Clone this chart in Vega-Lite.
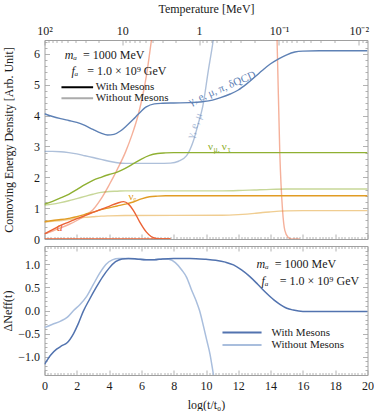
{
  "$schema": "https://vega.github.io/schema/vega-lite/v6.json",
  "padding": {"left": 0.5, "top": 2, "right": 0, "bottom": 0},
  "spacing": -7,
  "resolve": {"scale": {"color": "independent", "opacity": "independent", "x": "independent", "y": "independent"}, "legend": {"color": "independent", "opacity": "independent"}},
  "config": {
    "font": "Liberation Serif",
    "view": {"stroke": "#a0a0a0", "strokeWidth": 1},
    "axis": {"grid": false, "domain": false, "tickColor": "#a0a0a0", "tickWidth": 0.8, "labelFont": "Liberation Serif", "labelFontSize": 12, "labelColor": "#1a1a1a", "titleFont": "Liberation Serif", "titleFontSize": 12, "titleFontWeight": "normal", "titleColor": "#1a1a1a", "labelOverlap": false, "labelFlush": false, "labelPadding": 10},
    "text": {"font": "Liberation Serif", "fontSize": 12}
  },
  "datasets": {
    "top": [
      {"sp":"photon","m":"With Mesons","x":0,"y":4.06},{"sp":"photon","m":"With Mesons","x":0.5,"y":3.97},{"sp":"photon","m":"With Mesons","x":1,"y":3.9},{"sp":"photon","m":"With Mesons","x":1.5,"y":3.84},{"sp":"photon","m":"With Mesons","x":2,"y":3.78},{"sp":"photon","m":"With Mesons","x":2.5,"y":3.68},{"sp":"photon","m":"With Mesons","x":3,"y":3.55},{"sp":"photon","m":"With Mesons","x":3.5,"y":3.43},{"sp":"photon","m":"With Mesons","x":3.9,"y":3.37},{"sp":"photon","m":"With Mesons","x":4.3,"y":3.39},{"sp":"photon","m":"With Mesons","x":4.7,"y":3.5},{"sp":"photon","m":"With Mesons","x":5.1,"y":3.68},{"sp":"photon","m":"With Mesons","x":5.5,"y":3.88},{"sp":"photon","m":"With Mesons","x":5.8,"y":4.04},{"sp":"photon","m":"With Mesons","x":6.3,"y":4.28},{"sp":"photon","m":"With Mesons","x":6.8,"y":4.38},{"sp":"photon","m":"With Mesons","x":7.3,"y":4.4},{"sp":"photon","m":"With Mesons","x":8,"y":4.41},{"sp":"photon","m":"With Mesons","x":9,"y":4.42},{"sp":"photon","m":"With Mesons","x":9.8,"y":4.45},{"sp":"photon","m":"With Mesons","x":10.4,"y":4.5},{"sp":"photon","m":"With Mesons","x":10.9,"y":4.58},{"sp":"photon","m":"With Mesons","x":11.5,"y":4.7},{"sp":"photon","m":"With Mesons","x":12,"y":4.83},{"sp":"photon","m":"With Mesons","x":12.5,"y":5.02},{"sp":"photon","m":"With Mesons","x":13,"y":5.24},{"sp":"photon","m":"With Mesons","x":13.5,"y":5.47},{"sp":"photon","m":"With Mesons","x":14,"y":5.68},{"sp":"photon","m":"With Mesons","x":14.5,"y":5.84},{"sp":"photon","m":"With Mesons","x":15,"y":5.97},{"sp":"photon","m":"With Mesons","x":15.5,"y":6.06},{"sp":"photon","m":"With Mesons","x":16,"y":6.09},{"sp":"photon","m":"With Mesons","x":17,"y":6.1},{"sp":"photon","m":"With Mesons","x":20,"y":6.1},
      {"sp":"photon","m":"Without Mesons","x":0,"y":2.84},{"sp":"photon","m":"Without Mesons","x":0.5,"y":2.84},{"sp":"photon","m":"Without Mesons","x":1,"y":2.83},{"sp":"photon","m":"Without Mesons","x":1.5,"y":2.8},{"sp":"photon","m":"Without Mesons","x":2,"y":2.76},{"sp":"photon","m":"Without Mesons","x":2.5,"y":2.7},{"sp":"photon","m":"Without Mesons","x":3,"y":2.64},{"sp":"photon","m":"Without Mesons","x":3.5,"y":2.58},{"sp":"photon","m":"Without Mesons","x":4,"y":2.52},{"sp":"photon","m":"Without Mesons","x":4.5,"y":2.47},{"sp":"photon","m":"Without Mesons","x":5,"y":2.45},{"sp":"photon","m":"Without Mesons","x":6,"y":2.45},{"sp":"photon","m":"Without Mesons","x":7,"y":2.45},{"sp":"photon","m":"Without Mesons","x":7.8,"y":2.46},{"sp":"photon","m":"Without Mesons","x":8.3,"y":2.52},{"sp":"photon","m":"Without Mesons","x":8.8,"y":2.7},{"sp":"photon","m":"Without Mesons","x":9.2,"y":3.15},{"sp":"photon","m":"Without Mesons","x":9.5,"y":3.7},{"sp":"photon","m":"Without Mesons","x":9.8,"y":4.3},{"sp":"photon","m":"Without Mesons","x":10.15,"y":5.48},{"sp":"photon","m":"Without Mesons","x":10.45,"y":6.45},{"sp":"photon","m":"Without Mesons","x":10.7,"y":7.5},
      {"sp":"numu","m":"With Mesons","x":0,"y":1.13},{"sp":"numu","m":"With Mesons","x":0.5,"y":1.22},{"sp":"numu","m":"With Mesons","x":1,"y":1.33},{"sp":"numu","m":"With Mesons","x":1.5,"y":1.45},{"sp":"numu","m":"With Mesons","x":2,"y":1.6},{"sp":"numu","m":"With Mesons","x":2.5,"y":1.76},{"sp":"numu","m":"With Mesons","x":3,"y":1.9},{"sp":"numu","m":"With Mesons","x":3.5,"y":2.0},{"sp":"numu","m":"With Mesons","x":4,"y":2.09},{"sp":"numu","m":"With Mesons","x":4.5,"y":2.17},{"sp":"numu","m":"With Mesons","x":5,"y":2.29},{"sp":"numu","m":"With Mesons","x":5.5,"y":2.44},{"sp":"numu","m":"With Mesons","x":6,"y":2.59},{"sp":"numu","m":"With Mesons","x":6.5,"y":2.71},{"sp":"numu","m":"With Mesons","x":7,"y":2.77},{"sp":"numu","m":"With Mesons","x":7.5,"y":2.79},{"sp":"numu","m":"With Mesons","x":8,"y":2.8},{"sp":"numu","m":"With Mesons","x":20,"y":2.8},
      {"sp":"numu","m":"Without Mesons","x":0,"y":1.1},{"sp":"numu","m":"Without Mesons","x":0.5,"y":1.13},{"sp":"numu","m":"Without Mesons","x":1,"y":1.18},{"sp":"numu","m":"Without Mesons","x":1.5,"y":1.24},{"sp":"numu","m":"Without Mesons","x":2,"y":1.31},{"sp":"numu","m":"Without Mesons","x":2.5,"y":1.38},{"sp":"numu","m":"Without Mesons","x":3,"y":1.45},{"sp":"numu","m":"Without Mesons","x":3.5,"y":1.51},{"sp":"numu","m":"Without Mesons","x":4,"y":1.54},{"sp":"numu","m":"Without Mesons","x":4.5,"y":1.55},{"sp":"numu","m":"Without Mesons","x":5,"y":1.56},{"sp":"numu","m":"Without Mesons","x":11,"y":1.56},{"sp":"numu","m":"Without Mesons","x":12,"y":1.57},{"sp":"numu","m":"Without Mesons","x":13,"y":1.59},{"sp":"numu","m":"Without Mesons","x":14,"y":1.61},{"sp":"numu","m":"Without Mesons","x":15,"y":1.62},{"sp":"numu","m":"Without Mesons","x":20,"y":1.62},
      {"sp":"nue","m":"With Mesons","x":0,"y":0.56},{"sp":"nue","m":"With Mesons","x":0.5,"y":0.6},{"sp":"nue","m":"With Mesons","x":1,"y":0.63},{"sp":"nue","m":"With Mesons","x":1.5,"y":0.67},{"sp":"nue","m":"With Mesons","x":2,"y":0.72},{"sp":"nue","m":"With Mesons","x":2.5,"y":0.8},{"sp":"nue","m":"With Mesons","x":3,"y":0.87},{"sp":"nue","m":"With Mesons","x":3.5,"y":0.95},{"sp":"nue","m":"With Mesons","x":4,"y":1.01},{"sp":"nue","m":"With Mesons","x":4.5,"y":1.07},{"sp":"nue","m":"With Mesons","x":5,"y":1.13},{"sp":"nue","m":"With Mesons","x":5.5,"y":1.2},{"sp":"nue","m":"With Mesons","x":6,"y":1.3},{"sp":"nue","m":"With Mesons","x":6.5,"y":1.37},{"sp":"nue","m":"With Mesons","x":7,"y":1.39},{"sp":"nue","m":"With Mesons","x":7.5,"y":1.4},{"sp":"nue","m":"With Mesons","x":20,"y":1.4},
      {"sp":"nue","m":"Without Mesons","x":0,"y":0.55},{"sp":"nue","m":"Without Mesons","x":0.5,"y":0.57},{"sp":"nue","m":"Without Mesons","x":1,"y":0.6},{"sp":"nue","m":"Without Mesons","x":1.5,"y":0.63},{"sp":"nue","m":"Without Mesons","x":2,"y":0.67},{"sp":"nue","m":"Without Mesons","x":2.5,"y":0.7},{"sp":"nue","m":"Without Mesons","x":3,"y":0.72},{"sp":"nue","m":"Without Mesons","x":3.5,"y":0.74},{"sp":"nue","m":"Without Mesons","x":4,"y":0.75},{"sp":"nue","m":"Without Mesons","x":5,"y":0.76},{"sp":"nue","m":"Without Mesons","x":11,"y":0.77},{"sp":"nue","m":"Without Mesons","x":12,"y":0.79},{"sp":"nue","m":"Without Mesons","x":13,"y":0.83},{"sp":"nue","m":"Without Mesons","x":13.5,"y":0.86},{"sp":"nue","m":"Without Mesons","x":14,"y":0.88},{"sp":"nue","m":"Without Mesons","x":15,"y":0.91},{"sp":"nue","m":"Without Mesons","x":16,"y":0.92},{"sp":"nue","m":"Without Mesons","x":20,"y":0.92},
      {"sp":"axion","m":"With Mesons","x":0,"y":0.17},{"sp":"axion","m":"With Mesons","x":0.5,"y":0.3},{"sp":"axion","m":"With Mesons","x":1,"y":0.44},{"sp":"axion","m":"With Mesons","x":1.5,"y":0.55},{"sp":"axion","m":"With Mesons","x":2,"y":0.66},{"sp":"axion","m":"With Mesons","x":2.5,"y":0.76},{"sp":"axion","m":"With Mesons","x":3,"y":0.86},{"sp":"axion","m":"With Mesons","x":3.5,"y":0.96},{"sp":"axion","m":"With Mesons","x":4,"y":1.06},{"sp":"axion","m":"With Mesons","x":4.5,"y":1.16},{"sp":"axion","m":"With Mesons","x":4.9,"y":1.21},{"sp":"axion","m":"With Mesons","x":5.2,"y":1.13},{"sp":"axion","m":"With Mesons","x":5.5,"y":0.93},{"sp":"axion","m":"With Mesons","x":5.9,"y":0.55},{"sp":"axion","m":"With Mesons","x":6.3,"y":0.23},{"sp":"axion","m":"With Mesons","x":6.6,"y":0.08},{"sp":"axion","m":"With Mesons","x":7,"y":0.01},{"sp":"axion","m":"With Mesons","x":7.3,"y":0},{"sp":"axion","m":"With Mesons","x":7.8,"y":0},
      {"sp":"axion0","m":"With Mesons","x":0,"y":0},{"sp":"axion0","m":"With Mesons","x":7.8,"y":0},
      {"sp":"axion","m":"Without Mesons","x":0,"y":0.17},{"sp":"axion","m":"Without Mesons","x":0.5,"y":0.26},{"sp":"axion","m":"Without Mesons","x":1,"y":0.36},{"sp":"axion","m":"Without Mesons","x":1.5,"y":0.47},{"sp":"axion","m":"Without Mesons","x":2,"y":0.6},{"sp":"axion","m":"Without Mesons","x":2.5,"y":0.76},{"sp":"axion","m":"Without Mesons","x":3,"y":0.95},{"sp":"axion","m":"Without Mesons","x":3.5,"y":1.3},{"sp":"axion","m":"Without Mesons","x":4,"y":1.75},{"sp":"axion","m":"Without Mesons","x":4.5,"y":2.25},{"sp":"axion","m":"Without Mesons","x":5,"y":2.8},{"sp":"axion","m":"Without Mesons","x":5.4,"y":3.35},{"sp":"axion","m":"Without Mesons","x":5.8,"y":4.02},{"sp":"axion","m":"Without Mesons","x":6.1,"y":4.7},{"sp":"axion","m":"Without Mesons","x":6.3,"y":5.26},{"sp":"axion","m":"Without Mesons","x":6.62,"y":6.44},{"sp":"axion","m":"Without Mesons","x":6.9,"y":7.5},{"sp":"axion","m":"Without Mesons","x":7.2,"y":8.6},{"sp":"axion","m":"Without Mesons","x":8,"y":11},{"sp":"axion","m":"Without Mesons","x":13.6,"y":11},{"sp":"axion","m":"Without Mesons","x":14.2,"y":8.9},{"sp":"axion","m":"Without Mesons","x":14.4,"y":6.45},{"sp":"axion","m":"Without Mesons","x":14.57,"y":2.77},{"sp":"axion","m":"Without Mesons","x":14.74,"y":0.93},{"sp":"axion","m":"Without Mesons","x":14.88,"y":0.28},{"sp":"axion","m":"Without Mesons","x":15.08,"y":0.06},{"sp":"axion","m":"Without Mesons","x":15.3,"y":0},{"sp":"axion","m":"Without Mesons","x":15.8,"y":0}
    ],
    "bot": [
      {"mb":"With Mesons","x":0,"y":-1.17},{"mb":"With Mesons","x":0.4,"y":-0.96},{"mb":"With Mesons","x":0.75,"y":-0.84},{"mb":"With Mesons","x":1.05,"y":-0.77},{"mb":"With Mesons","x":1.4,"y":-0.7},{"mb":"With Mesons","x":1.8,"y":-0.5},{"mb":"With Mesons","x":2.1,"y":-0.28},{"mb":"With Mesons","x":2.4,"y":-0.02},{"mb":"With Mesons","x":2.8,"y":0.25},{"mb":"With Mesons","x":3.2,"y":0.5},{"mb":"With Mesons","x":3.6,"y":0.73},{"mb":"With Mesons","x":4,"y":0.92},{"mb":"With Mesons","x":4.4,"y":1.06},{"mb":"With Mesons","x":4.8,"y":1.12},{"mb":"With Mesons","x":5.2,"y":1.13},{"mb":"With Mesons","x":5.7,"y":1.12},{"mb":"With Mesons","x":6.3,"y":1.1},{"mb":"With Mesons","x":6.8,"y":1.1},{"mb":"With Mesons","x":7.3,"y":1.12},{"mb":"With Mesons","x":8,"y":1.13},{"mb":"With Mesons","x":9,"y":1.13},{"mb":"With Mesons","x":10,"y":1.11},{"mb":"With Mesons","x":10.6,"y":1.09},{"mb":"With Mesons","x":11.2,"y":1.05},{"mb":"With Mesons","x":11.7,"y":0.99},{"mb":"With Mesons","x":12.2,"y":0.88},{"mb":"With Mesons","x":12.7,"y":0.74},{"mb":"With Mesons","x":13.2,"y":0.57},{"mb":"With Mesons","x":13.7,"y":0.39},{"mb":"With Mesons","x":14.2,"y":0.23},{"mb":"With Mesons","x":14.6,"y":0.13},{"mb":"With Mesons","x":15,"y":0.05},{"mb":"With Mesons","x":15.4,"y":0.01},{"mb":"With Mesons","x":16,"y":-0.02},{"mb":"With Mesons","x":20,"y":-0.02},
      {"mb":"Without Mesons","x":0,"y":-0.37},{"mb":"Without Mesons","x":0.5,"y":-0.3},{"mb":"Without Mesons","x":1,"y":-0.23},{"mb":"Without Mesons","x":1.4,"y":-0.15},{"mb":"Without Mesons","x":1.8,"y":0},{"mb":"Without Mesons","x":2.2,"y":0.13},{"mb":"Without Mesons","x":2.6,"y":0.3},{"mb":"Without Mesons","x":3,"y":0.55},{"mb":"Without Mesons","x":3.4,"y":0.8},{"mb":"Without Mesons","x":3.8,"y":1.0},{"mb":"Without Mesons","x":4.2,"y":1.1},{"mb":"Without Mesons","x":4.6,"y":1.13},{"mb":"Without Mesons","x":5,"y":1.13},{"mb":"Without Mesons","x":5.6,"y":1.12},{"mb":"Without Mesons","x":6.2,"y":1.1},{"mb":"Without Mesons","x":6.8,"y":1.1},{"mb":"Without Mesons","x":7.3,"y":1.12},{"mb":"Without Mesons","x":7.7,"y":1.11},{"mb":"Without Mesons","x":8.1,"y":1.04},{"mb":"Without Mesons","x":8.5,"y":0.88},{"mb":"Without Mesons","x":8.8,"y":0.72},{"mb":"Without Mesons","x":9.1,"y":0.45},{"mb":"Without Mesons","x":9.4,"y":0.2},{"mb":"Without Mesons","x":9.6,"y":0},{"mb":"Without Mesons","x":9.85,"y":-0.35},{"mb":"Without Mesons","x":10.05,"y":-0.65},{"mb":"Without Mesons","x":10.25,"y":-0.95},{"mb":"Without Mesons","x":10.44,"y":-1.35},{"mb":"Without Mesons","x":10.6,"y":-1.7}
    ]
  },
  "vconcat": [
    {
      "width": 323,
      "height": 199,
      "resolve": {"axis": {"x": "independent", "y": "independent"}},
      "layer": [
        {
          "data": {"name": "top"},
          "transform": [{"filter": "datum.m == 'Without Mesons'"}],
          "mark": {"type": "line", "clip": true, "strokeWidth": 1.4, "interpolate": "monotone"},
          "encoding": {
            "x": {"field": "x", "type": "quantitative", "scale": {"domain": [0, 20], "nice": false, "zero": false},
              "axis": {"orient": "bottom", "labels": false, "title": null,
                "values": [0,0.2,0.4,0.6,0.8,1,1.2,1.4,1.6,1.8,2,2.2,2.4,2.6,2.8,3,3.2,3.4,3.6,3.8,4,4.2,4.4,4.6,4.8,5,5.2,5.4,5.6,5.8,6,6.2,6.4,6.6,6.8,7,7.2,7.4,7.6,7.8,8,8.2,8.4,8.6,8.8,9,9.2,9.4,9.6,9.8,10,10.2,10.4,10.6,10.8,11,11.2,11.4,11.6,11.8,12,12.2,12.4,12.6,12.8,13,13.2,13.4,13.6,13.8,14,14.2,14.4,14.6,14.8,15,15.2,15.4,15.6,15.8,16,16.2,16.4,16.6,16.8,17,17.2,17.4,17.6,17.8,18,18.2,18.4,18.6,18.8,19,19.2,19.4,19.6,19.8,20],
                "tickSize": {"condition": {"test": "abs(datum.value/2 - round(datum.value/2)) < 0.01", "value": -5}, "value": -2.5}}},
            "y": {"field": "y", "type": "quantitative", "scale": {"domain": [0, 6.45], "nice": false, "zero": false},
              "axis": {"orient": "left", "title": "Comoving Energy Density [Arb. Unit]", "titlePadding": 18,
                "values": [0,0.2,0.4,0.6,0.8,1,1.2,1.4,1.6,1.8,2,2.2,2.4,2.6,2.8,3,3.2,3.4,3.6,3.8,4,4.2,4.4,4.6,4.8,5,5.2,5.4,5.6,5.8,6,6.2,6.4],
                "labelExpr": "abs(datum.value - round(datum.value)) < 0.01 ? format(datum.value, 'd') : ''",
                "tickSize": {"condition": {"test": "abs(datum.value - round(datum.value)) < 0.01", "value": -5}, "value": -2.5}}},
            "color": {"field": "sp", "type": "nominal", "legend": null,
              "scale": {"domain": ["photon", "numu", "nue", "axion", "axion0"], "range": ["#5E81B5", "#8FB032", "#E19C24", "#EB6235", "#EB6235"]}},
            "opacity": {"field": "m", "type": "nominal", "legend": null,
              "scale": {"domain": ["With Mesons", "Without Mesons"], "range": [1, 0.5]}}
          }
        },
        {
          "data": {"name": "top"},
          "transform": [{"filter": "datum.m == 'With Mesons'"}],
          "mark": {"type": "line", "clip": true, "strokeWidth": 1.4, "interpolate": "monotone"},
          "encoding": {
            "x": {"field": "x", "type": "quantitative", "axis": null},
            "y": {"field": "y", "type": "quantitative", "axis": null},
            "color": {"field": "sp", "type": "nominal", "legend": null},
            "opacity": {"field": "m", "type": "nominal", "legend": null}
          }
        },
        {
          "data": {"values": [{"x": 1.05, "y": 4.92}, {"x": 3.01, "y": 4.92}]},
          "mark": {"type": "line", "color": "#000000", "strokeWidth": 2},
          "encoding": {
            "x": {"field": "x", "type": "quantitative", "axis": null},
            "y": {"field": "y", "type": "quantitative", "axis": null}
          }
        },
        {
          "data": {"values": [{"x": 1.05, "y": 4.56}, {"x": 3.01, "y": 4.56}]},
          "mark": {"type": "line", "color": "#ababab", "strokeWidth": 2},
          "encoding": {
            "x": {"field": "x", "type": "quantitative", "axis": null},
            "y": {"field": "y", "type": "quantitative", "axis": null}
          }
        },
        {
          "data": {"values": [{"x": 3.18, "y": 4.92, "t": "With Mesons"}, {"x": 3.18, "y": 4.56, "t": "Without Mesons"}]},
          "mark": {"type": "text", "fontSize": 11, "align": "left", "color": "#1a1a1a"},
          "encoding": {
            "x": {"field": "x", "type": "quantitative", "axis": null},
            "y": {"field": "y", "type": "quantitative", "axis": null},
            "text": {"field": "t"}
          }
        },
        {
          "data": {"values": [{"x": 5.2, "y": 1.37, "t": "νₑ", "sp": "nue"}, {"x": 10.12, "y": 2.99, "t": "ν", "sp": "numu"}, {"x": 10.98, "y": 2.99, "t": "ν", "sp": "numu"}]},
          "mark": {"type": "text", "fontSize": 11, "align": "left"},
          "encoding": {
            "x": {"field": "x", "type": "quantitative", "axis": null},
            "y": {"field": "y", "type": "quantitative", "axis": null},
            "text": {"field": "t"},
            "color": {"field": "sp", "type": "nominal", "legend": null}
          }
        },
        {
          "data": {"values": [{"x": 10.46, "y": 2.9, "t": "μ,", "sp": "numu"}, {"x": 11.33, "y": 2.9, "t": "τ", "sp": "numu"}]},
          "mark": {"type": "text", "fontSize": 8, "align": "left"},
          "encoding": {
            "x": {"field": "x", "type": "quantitative", "axis": null},
            "y": {"field": "y", "type": "quantitative", "axis": null},
            "text": {"field": "t"},
            "color": {"field": "sp", "type": "nominal", "legend": null}
          }
        },
        {
          "data": {"values": [{"x": 0.95, "y": 0.39, "t": "a", "sp": "axion"}]},
          "mark": {"type": "text", "fontSize": 12, "fontStyle": "italic"},
          "encoding": {
            "x": {"field": "x", "type": "quantitative", "axis": null},
            "y": {"field": "y", "type": "quantitative", "axis": null},
            "text": {"field": "t"},
            "color": {"field": "sp", "type": "nominal", "legend": null}
          }
        },
        {
          "data": {"values": [{"x": 11.01, "y": 4.88, "t": "γ, e, μ, π, δQCD", "sp": "photon"}]},
          "mark": {"type": "text", "fontSize": 11, "angle": 337},
          "encoding": {
            "x": {"field": "x", "type": "quantitative", "axis": null},
            "y": {"field": "y", "type": "quantitative", "axis": null},
            "text": {"field": "t"},
            "color": {"field": "sp", "type": "nominal", "legend": null}
          }
        },
        {
          "data": {"values": [{"x": 9.31, "y": 3.67, "t": "γ, e, μ", "sp": "photon", "m": "Without Mesons"}]},
          "mark": {"type": "text", "fontSize": 11, "angle": 291},
          "encoding": {
            "x": {"field": "x", "type": "quantitative", "axis": null},
            "y": {"field": "y", "type": "quantitative", "axis": null},
            "text": {"field": "t"},
            "color": {"field": "sp", "type": "nominal", "legend": null},
            "opacity": {"field": "m", "type": "nominal", "legend": null}
          }
        },
        {
          "data": {"values": [{"x": 1.26, "y": 5.96, "t": "mₐ"}, {"x": 1.67, "y": 5.45, "t": "fₐ"}]},
          "mark": {"type": "text", "fontSize": 12, "fontStyle": "italic", "align": "left", "color": "#1a1a1a"},
          "encoding": {
            "x": {"field": "x", "type": "quantitative", "axis": null},
            "y": {"field": "y", "type": "quantitative", "axis": null},
            "text": {"field": "t"}
          }
        },
        {
          "data": {"values": [{"x": 2.39, "y": 5.96, "t": "= 1000 MeV"}, {"x": 2.64, "y": 5.45, "t": "= 1.0 × 10⁹ GeV"}]},
          "mark": {"type": "text", "fontSize": 12, "align": "left", "color": "#1a1a1a"},
          "encoding": {
            "x": {"field": "x", "type": "quantitative",
              "axis": {"orient": "top", "title": "Temperature [MeV]", "titlePadding": 6, "labelPadding": 8,
                "values": [0, 0.22, 0.47, 0.75, 1.07, 1.45, 1.92, 2.52, 3.37, 4.82, 5.04, 5.28, 5.56, 5.87, 6.25, 6.71, 7.3, 8.14, 9.57, 9.8, 10.05, 10.34, 10.67, 11.06, 11.54, 12.16, 13.03, 14.52, 14.75, 15.0, 15.29, 15.62, 16.01, 16.49, 17.1, 17.97, 19.46, 19.69, 19.94],
                "labelExpr": "datum.value == 0 ? '10²' : datum.value == 4.82 ? '10' : datum.value == 9.57 ? '1' : datum.value == 14.52 ? '10⁻¹' : datum.value == 19.46 ? '10⁻²' : ''",
                "tickSize": {"condition": {"test": "indexof([0, 4.82, 9.57, 14.52, 19.46], datum.value) >= 0", "value": -5}, "value": -2.5}}},
            "y": {"field": "y", "type": "quantitative",
              "axis": {"orient": "right", "labels": false, "title": null,
                "values": [0,0.2,0.4,0.6,0.8,1,1.2,1.4,1.6,1.8,2,2.2,2.4,2.6,2.8,3,3.2,3.4,3.6,3.8,4,4.2,4.4,4.6,4.8,5,5.2,5.4,5.6,5.8,6,6.2,6.4],
                "tickSize": {"condition": {"test": "abs(datum.value - round(datum.value)) < 0.01", "value": -5}, "value": -2.5}}},
            "text": {"field": "t"}
          }
        }
      ]
    },
    {
      "width": 323,
      "height": 129,
      "resolve": {"axis": {"x": "independent", "y": "independent"}},
      "layer": [
        {
          "mark": {"type": "rule", "color": "#b4b4b4", "strokeWidth": 1},
          "encoding": {"y": {"datum": 0, "type": "quantitative", "axis": null}}
        },
        {
          "data": {"name": "bot"},
          "transform": [{"filter": "datum.mb == 'Without Mesons'"}],
          "mark": {"type": "line", "clip": true, "strokeWidth": 1.5, "interpolate": "monotone"},
          "encoding": {
            "x": {"field": "x", "type": "quantitative", "scale": {"domain": [0, 20], "nice": false, "zero": false},
              "axis": {"orient": "bottom", "title": "log(t/t₀)", "titlePadding": 6,
                "values": [0,0.2,0.4,0.6,0.8,1,1.2,1.4,1.6,1.8,2,2.2,2.4,2.6,2.8,3,3.2,3.4,3.6,3.8,4,4.2,4.4,4.6,4.8,5,5.2,5.4,5.6,5.8,6,6.2,6.4,6.6,6.8,7,7.2,7.4,7.6,7.8,8,8.2,8.4,8.6,8.8,9,9.2,9.4,9.6,9.8,10,10.2,10.4,10.6,10.8,11,11.2,11.4,11.6,11.8,12,12.2,12.4,12.6,12.8,13,13.2,13.4,13.6,13.8,14,14.2,14.4,14.6,14.8,15,15.2,15.4,15.6,15.8,16,16.2,16.4,16.6,16.8,17,17.2,17.4,17.6,17.8,18,18.2,18.4,18.6,18.8,19,19.2,19.4,19.6,19.8,20],
                "labelExpr": "abs(datum.value/2 - round(datum.value/2)) < 0.01 ? format(datum.value, 'd') : ''",
                "tickSize": {"condition": {"test": "abs(datum.value/2 - round(datum.value/2)) < 0.01", "value": -5}, "value": -2.5}}},
            "y": {"field": "y", "type": "quantitative", "scale": {"domain": [-1.4, 1.4], "nice": false, "zero": false},
              "axis": {"orient": "left", "title": "ΔNeff(t)", "titlePadding": 3.2,
                "values": [-1.4,-1.3,-1.2,-1.1,-1,-0.9,-0.8,-0.7,-0.6,-0.5,-0.4,-0.3,-0.2,-0.1,0,0.1,0.2,0.3,0.4,0.5,0.6,0.7,0.8,0.9,1,1.1,1.2,1.3,1.4],
                "labelExpr": "abs(datum.value*2 - round(datum.value*2)) < 0.01 ? format(datum.value, '.1f') : ''",
                "tickSize": {"condition": {"test": "abs(datum.value*2 - round(datum.value*2)) < 0.01", "value": -5}, "value": -2.5}}},
            "color": {"field": "mb", "type": "nominal", "legend": null,
              "scale": {"domain": ["With Mesons", "Without Mesons"], "range": ["#5273AF", "#A9BEDD"]}}
          }
        },
        {
          "data": {"name": "bot"},
          "transform": [{"filter": "datum.mb == 'With Mesons'"}],
          "mark": {"type": "line", "clip": true, "strokeWidth": 1.5, "interpolate": "monotone"},
          "encoding": {
            "x": {"field": "x", "type": "quantitative", "axis": null},
            "y": {"field": "y", "type": "quantitative", "axis": null},
            "color": {"field": "mb", "type": "nominal", "legend": null}
          }
        },
        {
          "data": {"values": [{"mb": "With Mesons", "x": 11.02, "y": -0.478}, {"mb": "With Mesons", "x": 13.44, "y": -0.478}, {"mb": "Without Mesons", "x": 11.02, "y": -0.748}, {"mb": "Without Mesons", "x": 13.44, "y": -0.748}]},
          "mark": {"type": "line", "strokeWidth": 2},
          "encoding": {
            "x": {"field": "x", "type": "quantitative", "axis": null},
            "y": {"field": "y", "type": "quantitative", "axis": null},
            "color": {"field": "mb", "type": "nominal", "legend": null}
          }
        },
        {
          "data": {"values": [{"x": 14.06, "y": -0.478, "t": "With Mesons"}, {"x": 14.06, "y": -0.748, "t": "Without Mesons"}]},
          "mark": {"type": "text", "fontSize": 11, "align": "left", "color": "#1a1a1a"},
          "encoding": {
            "x": {"field": "x", "type": "quantitative", "axis": null},
            "y": {"field": "y", "type": "quantitative", "axis": null},
            "text": {"field": "t"}
          }
        },
        {
          "data": {"values": [{"x": 13.13, "y": 1.0, "t": "mₐ"}, {"x": 13.44, "y": 0.64, "t": "fₐ"}]},
          "mark": {"type": "text", "fontSize": 12, "fontStyle": "italic", "align": "left", "color": "#1a1a1a"},
          "encoding": {
            "x": {"field": "x", "type": "quantitative", "axis": null},
            "y": {"field": "y", "type": "quantitative", "axis": null},
            "text": {"field": "t"}
          }
        },
        {
          "data": {"values": [{"x": 14.26, "y": 1.0, "t": "= 1000 MeV"}, {"x": 14.57, "y": 0.64, "t": "= 1.0 × 10⁹ GeV"}]},
          "mark": {"type": "text", "fontSize": 12, "align": "left", "color": "#1a1a1a"},
          "encoding": {
            "x": {"field": "x", "type": "quantitative",
              "axis": {"orient": "top", "labels": false, "title": null,
                "values": [0,0.2,0.4,0.6,0.8,1,1.2,1.4,1.6,1.8,2,2.2,2.4,2.6,2.8,3,3.2,3.4,3.6,3.8,4,4.2,4.4,4.6,4.8,5,5.2,5.4,5.6,5.8,6,6.2,6.4,6.6,6.8,7,7.2,7.4,7.6,7.8,8,8.2,8.4,8.6,8.8,9,9.2,9.4,9.6,9.8,10,10.2,10.4,10.6,10.8,11,11.2,11.4,11.6,11.8,12,12.2,12.4,12.6,12.8,13,13.2,13.4,13.6,13.8,14,14.2,14.4,14.6,14.8,15,15.2,15.4,15.6,15.8,16,16.2,16.4,16.6,16.8,17,17.2,17.4,17.6,17.8,18,18.2,18.4,18.6,18.8,19,19.2,19.4,19.6,19.8,20],
                "tickSize": {"condition": {"test": "abs(datum.value/2 - round(datum.value/2)) < 0.01", "value": -5}, "value": -2.5}}},
            "y": {"field": "y", "type": "quantitative",
              "axis": {"orient": "right", "labels": false, "title": null,
                "values": [-1.4,-1.3,-1.2,-1.1,-1,-0.9,-0.8,-0.7,-0.6,-0.5,-0.4,-0.3,-0.2,-0.1,0,0.1,0.2,0.3,0.4,0.5,0.6,0.7,0.8,0.9,1,1.1,1.2,1.3,1.4],
                "tickSize": {"condition": {"test": "abs(datum.value*2 - round(datum.value*2)) < 0.01", "value": -5}, "value": -2.5}}},
            "text": {"field": "t"}
          }
        }
      ]
    }
  ]
}
